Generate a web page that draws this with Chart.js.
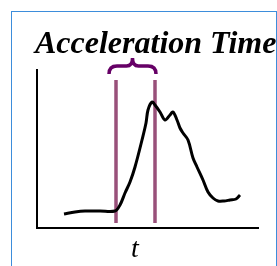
<!DOCTYPE html>
<html>
<head>
<meta charset="utf-8">
<script src="https://cdn.jsdelivr.net/npm/chart.js@4.4.0/dist/chart.umd.min.js"></script>
<style>
  html, body { margin: 0; padding: 0; background: #fff; }
  #wrap { position: relative; width: 277px; height: 266px; overflow: hidden; }
  #frame { position: absolute; left: 11px; top: 11px; width: 264px; height: 300px; border: 1px solid #3d8ddb; }
  canvas { position: absolute; left: 0; top: 0; }
</style>
</head>
<body>
<div id="wrap">
  <div id="frame"></div>
  <canvas id="chart" width="277" height="266"></canvas>
</div>
<script>
// curve (arbitrary units)
const times = [27, 38, 48, 63, 78, 83, 88, 93, 98, 105, 109, 111, 115, 118, 123, 128, 133, 136, 140, 143, 146, 151, 156, 160, 166, 171, 176, 181, 187, 193, 199, 203];
const accel = [14, 16, 17, 17, 17, 23, 35, 46, 61, 88, 105, 118, 126, 123, 116, 108, 113, 116, 108, 100, 95, 88, 70, 61, 48, 36, 30, 27, 27, 28, 29, 33];

// acceleration time window
const markTimes = [79, 118];
const markRange = [5, 148];

const titleText = 'Acceleration Time';
const axisLabel = 't';

const markColor = '#99507a';
const braceColor = '#660066';

function markerSet(t) {
  return {
    data: [{ x: t, y: markRange[0] }, { x: t, y: markRange[1] }],
    borderColor: markColor,
    borderWidth: 3.5,
    pointRadius: 0,
    fill: false
  };
}

// title, brace over the window, and the t label
const decorations = {
  id: 'decorations',
  afterDraw(chart) {
    const ctx = chart.ctx;
    const x = chart.scales.x;
    ctx.save();
    ctx.fillStyle = '#000';
    ctx.textBaseline = 'alphabetic';
    ctx.textAlign = 'left';
    ctx.font = 'italic bold 32px "Liberation Serif"';
    ctx.fillText(titleText, 35, 53);

    ctx.textAlign = 'center';
    ctx.font = 'italic 28px "Liberation Serif"';
    ctx.fillText(axisLabel, 135, 257);

    const xa = x.getPixelForValue(markTimes[0]) - 7;
    const xb = x.getPixelForValue(markTimes[1]) + 1;
    const mid = (xa + xb) / 2;
    const yTop = 58, yMid = 66, yEnd = 74;
    ctx.strokeStyle = braceColor;
    ctx.lineWidth = 3.5;
    ctx.lineCap = 'butt';
    ctx.beginPath();
    ctx.moveTo(xa, yEnd);
    ctx.quadraticCurveTo(xa, yMid, xa + 8, yMid);
    ctx.lineTo(mid - 6, yMid);
    ctx.quadraticCurveTo(mid, yMid, mid, yTop);
    ctx.quadraticCurveTo(mid, yMid, mid + 6, yMid);
    ctx.lineTo(xb - 8, yMid);
    ctx.quadraticCurveTo(xb, yMid, xb, yEnd);
    ctx.stroke();
    ctx.restore();
  }
};

new Chart(document.getElementById('chart'), {
  type: 'line',
  data: {
    datasets: [
      {
        data: times.map((t, i) => ({ x: t, y: accel[i] })),
        borderColor: '#000',
        borderWidth: 3,
        pointRadius: 0,
        tension: 0.35,
        fill: false
      },
      markerSet(markTimes[0]),
      markerSet(markTimes[1])
    ]
  },
  options: {
    responsive: false,
    animation: false,
    devicePixelRatio: 1,
    layout: { padding: { left: 37, top: 70, right: 19, bottom: 38 } },
    plugins: { legend: { display: false }, tooltip: { enabled: false } },
    scales: {
      x: {
        type: 'linear',
        min: 0,
        max: 221,
        grid: { display: false, drawTicks: false },
        ticks: { display: false },
        border: { color: '#000', width: 2 },
        afterFit: (s) => { s.height = 0; }
      },
      y: {
        min: 0,
        max: 158,
        grid: { display: false, drawTicks: false },
        ticks: { display: false },
        border: { color: '#000', width: 2 },
        afterFit: (s) => { s.width = 0; }
      }
    }
  },
  plugins: [decorations]
});
</script>
</body>
</html>
